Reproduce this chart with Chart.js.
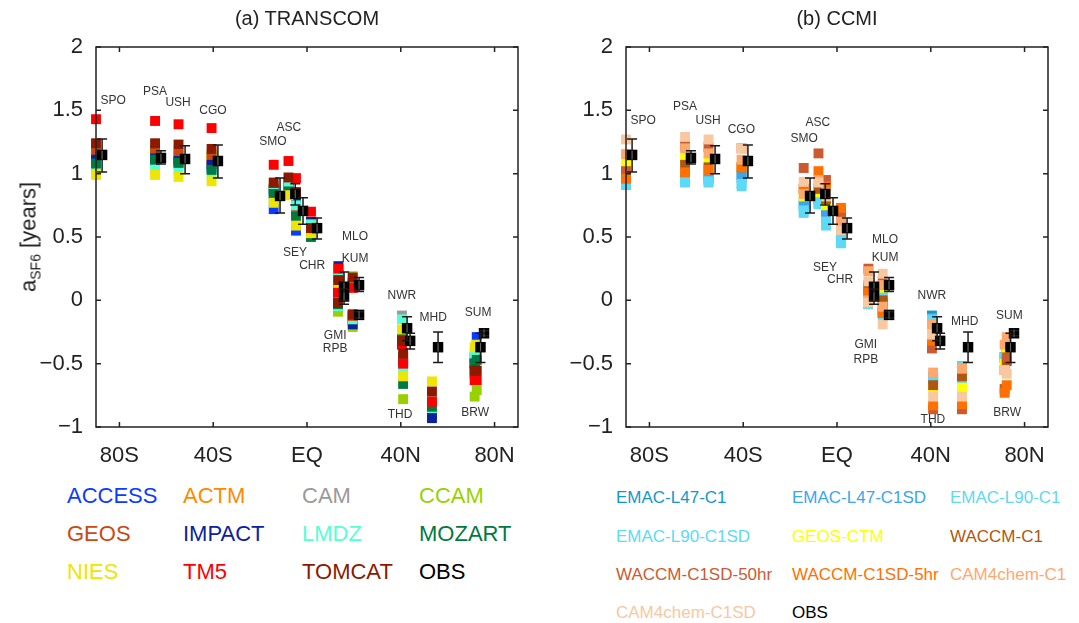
<!DOCTYPE html>
<html>
<head>
<meta charset="utf-8">
<script src="https://cdn.jsdelivr.net/npm/chart.js@4.4.1/dist/chart.umd.min.js"></script>
<style>
body { margin: 0; background: #fff; font-family: "Liberation Sans", Arial, sans-serif; }
#wrap { position: relative; width: 1079px; height: 623px; overflow: hidden; }
.cv { position: absolute; top: 0; width: 540px; height: 470px; }
.t { position: absolute; white-space: nowrap; line-height: 1; }
.title { font-size: 20px; color: #222; top: 8px; transform: translateX(-50%); }
.lg1 { font-size: 22px; }
.lg2 { font-size: 17px; }
#ylab { left: 30px; top: 237px; font-size: 22px; color: #222; transform: translate(-50%, -50%) rotate(-90deg); }
#ylab sub { font-size: 14px; vertical-align: -5px; }
</style>
</head>
<body>
<div id="wrap">
  <div class="cv" style="left:0"><canvas id="c1" width="540" height="470"></canvas></div>
  <div class="cv" style="left:530px"><canvas id="c2" width="540" height="470"></canvas></div>
  <div class="t title" style="left:307px">(a) TRANSCOM</div>
  <div class="t title" style="left:837px">(b) CCMI</div>
  <div class="t" id="ylab">a<sub>SF6</sub> [years]</div>
  <div id="legend1"></div>
  <div id="legend2"></div>
</div>
<script>
// stations (model column at station latitude, obs drawn slightly to the right)
const stations = ['SPO','PSA','USH','CGO','SMO','ASC','SEY','CHR','GMI','RPB','MLO','KUM','NWR','THD','MHD','SUM','BRW'];
const stationLat = [-90, -64.8, -54.8, -40.7, -14.2, -7.9, -4.7, 1.7, 13.4, 13.2, 19.5, 19.5, 40.5, 41, 53.3, 72.4, 71.5];
const obsLat     = [-87.4, -62.3, -52, -38, -11.5, -5, -1.7, 4.3, 15.8, 15.8, 22.2, 22.2, 42.7, 44, 55.9, 75.5, 74];
const obsVal     = [1.148, 1.124, 1.116, 1.10, 0.824, 0.84, 0.706, 0.57, 0.107, 0.03, 0.12, -0.115, -0.22, -0.32, -0.37, -0.26, -0.37];
const obsLow     = [1.013, 1.076, 1.0, 0.966, 0.69, 0.753, 0.60, 0.485, 0.0, -0.03, 0.07, -0.14, -0.32, -0.385, -0.49, -0.28, -0.49];
const obsHigh    = [1.274, 1.18, 1.22, 1.227, 0.966, 0.92, 0.81, 0.65, 0.224, 0.09, 0.18, -0.09, -0.13, -0.26, -0.25, -0.24, -0.26];

const xTickVals = [-80, -40, 0, 40, 80];
const xTickLabels = ['80S', '40S', 'EQ', '40N', '80N'];
const yTickVals = [-1, -0.5, 0, 0.5, 1, 1.5, 2];
const yTickLabels = ['\u22121', '\u22120.5', '0', '0.5', '1', '1.5', '2'];

// (a) TRANSCOM models
const tcNames  = ['ACCESS','ACTM','CAM','CCAM','GEOS','IMPACT','LMDZ','MOZART','NIES','TM5','TOMCAT'];
const tcColors = ['#0a3cff','#ff8a00','#9a9a9a','#99d100','#c94a10','#0a22a0','#55ffd5','#007a40','#eee600','#ff0000','#8b1a00'];
const ACCESS = [1.08, 1.10, 1.08, 1.05, 0.72, 0.86, 0.55, 0.52, 0.20, 0.02, 0.13, -0.16, -0.25, -0.50, -0.90, -0.29, -0.45];
const ACTM   = [1.17, 1.16, 1.15, 1.12, 0.86, 0.88, 0.70, 0.55, 0.15, -0.02, 0.12, -0.13, -0.28, -0.45, -0.86, -0.40, -0.55];
const CAM    = [1.10, 1.12, 1.10, 1.05, 0.80, 0.85, 0.70, 0.55, 0.12, 0.00, 0.12, -0.12, -0.12, -0.45, -0.80, -0.38, -0.50];
const CCAM   = [1.19, 1.19, 1.18, 1.15, 0.90, 0.90, 0.74, 0.58, 0.10, -0.09, 0.19, -0.21, -0.30, -0.78, -0.80, -0.71, -0.76];
const GEOS   = [1.17, 1.17, 1.15, 1.12, 0.88, 0.90, 0.72, 0.56, 0.14, -0.05, 0.10, -0.14, -0.30, -0.45, -0.87, -0.45, -0.58];
const IMPACT = [1.11, 1.12, 1.10, 1.07, 0.87, 0.93, 0.78, 0.62, 0.27, -0.04, 0.14, -0.19, -0.28, -0.50, -0.93, -0.38, -0.50];
const LMDZ   = [1.05, 1.04, 1.03, 1.00, 0.85, 0.91, 0.75, 0.60, 0.18, -0.05, 0.15, -0.15, -0.15, -0.55, -0.85, -0.40, -0.42];
const MOZART = [1.08, 1.11, 1.085, 1.03, 0.84, 0.86, 0.66, 0.50, 0.15, -0.03, 0.12, -0.12, -0.30, -0.66, -0.84, -0.47, -0.50];
const NIES   = [0.99, 0.99, 0.975, 0.94, 0.77, 0.83, 0.59, 0.53, 0.10, 0.04, 0.12, -0.12, -0.23, -0.60, -0.64, -0.35, -0.37];
const TM5    = [1.43, 1.416, 1.39, 1.36, 1.07, 1.10, 0.965, 0.70, 0.25, 0.06, 0.10, -0.12, -0.35, -0.50, -0.80, -0.63, -0.63];
const TOMCAT = [1.24, 1.24, 1.23, 1.195, 0.93, 0.97, 0.855, 0.57, 0.16, -0.02, 0.18, -0.11, -0.32, -0.42, -0.72, -0.555, -0.555];
const tcValues = [ACCESS, ACTM, CAM, CCAM, GEOS, IMPACT, LMDZ, MOZART, NIES, TM5, TOMCAT];

// (b) CCMI models
const ccNames  = ['EMAC-L47-C1','EMAC-L47-C1SD','EMAC-L90-C1','EMAC-L90-C1SD','GEOS-CTM','WACCM-C1','WACCM-C1SD-50hr','WACCM-C1SD-5hr','CAM4chem-C1','CAM4chem-C1SD'];
const ccColors = ['#1497c8','#3aa6ee','#5fd8f0','#5cdaf8','#ffff00','#b0560e','#cc5a30','#ff7000','#ffa86e','#f8c8a0'];
const L47C1    = [0.93, 0.96, 0.96, 0.97, 0.75, 0.80, 0.70, 0.50, 0.12, 0.00, 0.10, -0.10, -0.12, -0.62, -0.52, -0.38, -0.45];
const L47C1SD  = [0.95, 0.98, 0.98, 0.99, 0.77, 0.80, 0.70, 0.52, 0.10, 0.00, 0.10, -0.10, -0.14, -0.60, -0.55, -0.40, -0.45];
const L90C1    = [0.91, 0.93, 0.93, 0.90, 0.69, 0.77, 0.59, 0.45, 0.08, -0.02, 0.08, -0.10, -0.15, -0.62, -0.52, -0.40, -0.45];
const L90C1SD  = [0.92, 0.94, 0.94, 0.92, 0.71, 0.76, 0.62, 0.47, 0.06, -0.03, 0.06, -0.12, -0.16, -0.62, -0.64, -0.42, -0.46];
const GEOSCTM  = [1.085, 1.12, 1.10, 1.06, 0.82, 0.85, 0.75, 0.60, 0.04, 0.05, 0.10, -0.10, -0.25, -0.70, -0.69, -0.40, -0.50];
const WC1      = [1.00, 1.07, 1.05, 1.05, 0.88, 0.88, 0.80, 0.65, 0.10, -0.02, 0.00, -0.02, -0.28, -0.67, -0.60, -0.48, -0.55];
const WSD50    = [1.02, 1.22, 1.21, 1.20, 1.045, 1.16, 0.95, 0.70, 0.25, 0.05, 0.15, -0.08, -0.38, -0.86, -0.86, -0.45, -0.70];
const WSD5     = [0.96, 1.01, 1.03, 1.05, 0.88, 1.02, 0.90, 0.73, 0.06, 0.06, 0.12, -0.10, -0.32, -0.83, -0.82, -0.67, -0.73];
const CAMC1    = [1.155, 1.20, 1.16, 1.11, 0.84, 0.95, 0.85, 0.62, 0.23, 0.00, 0.12, -0.05, -0.19, -0.57, -0.54, -0.29, -0.35];
const CAMC1SD  = [1.27, 1.29, 1.27, 1.20, 0.935, 0.93, 0.82, 0.55, 0.15, -0.02, 0.21, -0.19, -0.27, -0.76, -0.76, -0.58, -0.55];
const ccValues = [L47C1, L47C1SD, L90C1, L90C1SD, GEOSCTM, WC1, WSD50, WSD5, CAMC1, CAMC1SD];

// station label positions [lat, value] for each panel
const labelPosA = [[-82.7,1.58],[-64.8,1.65],[-55,1.56],[-40.1,1.50],[-14.5,1.25],[-7.7,1.36],[-5.1,0.38],[2.2,0.27],[12,-0.28],[12,-0.38],[20.5,0.50],[20.5,0.33],[40.5,0.04],[39.7,-0.90],[53.8,-0.14],[73,-0.10],[71.7,-0.89]];
const labelPosB = [[-82.7,1.42],[-64.8,1.53],[-55,1.42],[-40.8,1.35],[-14,1.28],[-8.2,1.40],[-5.1,0.26],[1.3,0.16],[12.3,-0.35],[12.3,-0.47],[20.5,0.48],[20.5,0.34],[40.5,0.04],[40.9,-0.94],[54.5,-0.17],[73.5,-0.12],[72.6,-0.89]];

const framePlugin = {
  id: 'frame',
  afterDatasetsDraw(chart, args, opts) {
    const { ctx, chartArea: a, scales: { x, y } } = chart;
    ctx.save();
    // error bars of the obs
    ctx.strokeStyle = '#1a1a1a';
    ctx.lineWidth = 1.5;
    obsLat.forEach((lat, i) => {
      const px = x.getPixelForValue(lat);
      const y1 = y.getPixelForValue(obsLow[i]), y2 = y.getPixelForValue(obsHigh[i]);
      ctx.beginPath();
      ctx.moveTo(px, y1); ctx.lineTo(px, y2);
      ctx.moveTo(px - 5, y1); ctx.lineTo(px + 5, y1);
      ctx.moveTo(px - 5, y2); ctx.lineTo(px + 5, y2);
      ctx.stroke();
      const py = y.getPixelForValue(obsVal[i]);
      ctx.strokeStyle = '#666'; ctx.lineWidth = 1;
      ctx.beginPath(); ctx.moveTo(px, py - 4); ctx.lineTo(px, py + 4); ctx.stroke();
      ctx.strokeStyle = '#1a1a1a'; ctx.lineWidth = 1.5;
    });
    // station labels
    ctx.fillStyle = '#333';
    ctx.font = '12px "Liberation Sans", Arial, sans-serif';
    ctx.textAlign = 'center';
    ctx.textBaseline = 'middle';
    opts.labels.forEach((p, i) => {
      ctx.fillText(stations[i], x.getPixelForValue(p[0]), y.getPixelForValue(p[1]));
    });
    // box and inward ticks
    ctx.strokeStyle = '#222';
    ctx.lineWidth = 1.5;
    ctx.strokeRect(a.left, a.top, a.right - a.left, a.bottom - a.top);
    ctx.beginPath();
    xTickVals.forEach(v => {
      const px = x.getPixelForValue(v);
      ctx.moveTo(px, a.bottom); ctx.lineTo(px, a.bottom - 5);
      ctx.moveTo(px, a.top); ctx.lineTo(px, a.top + 5);
    });
    yTickVals.forEach(v => {
      const py = y.getPixelForValue(v);
      ctx.moveTo(a.left, py); ctx.lineTo(a.left + 5, py);
      ctx.moveTo(a.right, py); ctx.lineTo(a.right - 5, py);
    });
    ctx.stroke();
    ctx.restore();
  }
};

function makeChart(id, names, colors, values, labelPos) {
  const datasets = names.map((n, i) => ({
    label: n,
    data: stationLat.map((lat, j) => ({ x: lat, y: values[i][j] })),
    backgroundColor: colors[i],
    pointStyle: 'rect',
    pointRadius: 7,
    pointBorderWidth: 0,
    clip: false,
    order: names.length - i
  }));
  datasets.push({
    label: 'OBS',
    data: obsLat.map((lat, j) => ({ x: lat, y: obsVal[j] })),
    backgroundColor: '#000',
    pointStyle: 'rect',
    pointRadius: 7.4,
    pointBorderWidth: 0,
    clip: false,
    order: -1
  });
  return new Chart(document.getElementById(id), {
    type: 'scatter',
    data: { datasets },
    options: {
      responsive: false,
      animation: false,
      events: [],
      layout: { padding: { top: 47, right: 22, left: 0, bottom: 0 } },
      plugins: { legend: { display: false }, tooltip: { enabled: false }, frame: { labels: labelPos } },
      scales: {
        x: {
          type: 'linear', min: -90, max: 90,
          afterBuildTicks: s => { s.ticks = xTickVals.map(v => ({ value: v })); },
          afterFit: s => { s.height = 43; },
          grid: { display: false }, border: { display: false },
          ticks: { padding: 8, color: '#222', font: { size: 22, family: '"Liberation Sans", Arial' },
                   maxRotation: 0, callback: v => xTickLabels[xTickVals.indexOf(v)] }
        },
        y: {
          min: -1, max: 2,
          afterBuildTicks: s => { s.ticks = yTickVals.map(v => ({ value: v })); },
          afterFit: s => { s.width = 96; },
          grid: { display: false }, border: { display: false },
          ticks: { padding: 5, color: '#222', font: { size: 22, family: '"Liberation Sans", Arial' },
                   callback: v => yTickLabels[yTickVals.indexOf(v)] }
        }
      }
    },
    plugins: [framePlugin]
  });
}

makeChart('c1', tcNames, tcColors, tcValues, labelPosA);
makeChart('c2', ccNames, ccColors, ccValues, labelPosB);

// legends below the panels
const lg1Cols = [67, 183, 302, 419];
const lg1Rows = [485, 523, 561];
const lg2Cols = [616, 792, 950];
const lg2Rows = [489, 528, 566, 604];
function addLegend(boxId, cls, names, colors, cols, rows) {
  const box = document.getElementById(boxId);
  names.concat(['OBS']).forEach((n, i) => {
    const d = document.createElement('div');
    d.className = 't ' + cls;
    d.textContent = n;
    d.style.color = i < names.length ? colors[i] : '#000';
    d.style.left = cols[i % cols.length] + 'px';
    d.style.top = rows[Math.floor(i / cols.length)] + 'px';
    box.appendChild(d);
  });
}
addLegend('legend1', 'lg1', tcNames, tcColors, lg1Cols, lg1Rows);
addLegend('legend2', 'lg2', ccNames, ccColors, lg2Cols, lg2Rows);
</script>
</body>
</html>
